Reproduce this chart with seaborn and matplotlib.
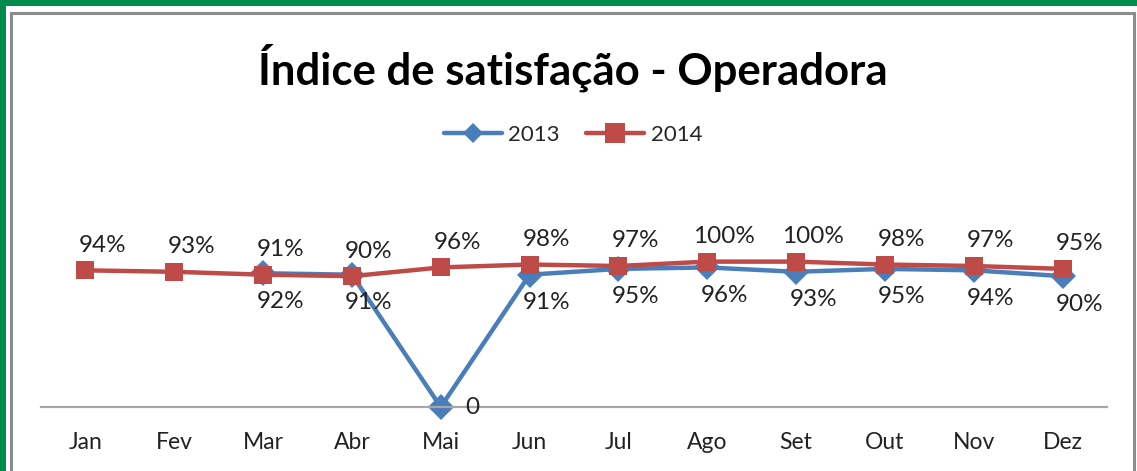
import numpy as np
import pandas as pd
import matplotlib
matplotlib.use("Agg")
import matplotlib.pyplot as plt
from matplotlib.patches import Rectangle
import seaborn as sns

# dados
meses = ["Jan", "Fev", "Mar", "Abr", "Mai", "Jun", "Jul", "Ago", "Set", "Out", "Nov", "Dez"]
v2013 = [None, None, 0.92, 0.91, 0.0, 0.91, 0.95, 0.96, 0.93, 0.95, 0.94, 0.90]
v2014 = [0.94, 0.93, 0.91, 0.90, 0.96, 0.98, 0.97, 1.00, 1.00, 0.98, 0.97, 0.95]
anos = ["2013", "2014"]
cores = {"2013": "#4A7EBB", "2014": "#BE4B48"}
marcadores = {"2013": "D", "2014": "s"}
tam_marcador = {"2013": 10.5, "2014": 14.5}

df = pd.DataFrame({
    "pos": list(range(len(meses))) * 2,
    "ano": ["2013"] * len(meses) + ["2014"] * len(meses),
    "valor": v2013 + v2014,
}).dropna()

sns.set_theme(style="white")
plt.rcParams["font.family"] = ["Lato", "DejaVu Sans"]

W, H = 1137, 471
fig = plt.figure(figsize=(W / 100, H / 100), dpi=100)
fig.patch.set_facecolor("#008A4E")
# fundo branco + moldura cinza
fig.patches.append(Rectangle((6 / W, 0), 1, (H - 6) / H, transform=fig.transFigure,
                             facecolor="white", edgecolor="none", zorder=-2))
fig.patches.append(Rectangle((11 / W, -0.05), (1134 - 11) / W, (H - 13) / H + 0.05,
                             transform=fig.transFigure, facecolor="none",
                             edgecolor="#8C8C8C", linewidth=2.2, zorder=-1))

ax = fig.add_axes([41 / W, (H - 407) / H, (1107 - 41) / W, (407 - 218) / H])
ax.set_facecolor("none")

sns.lineplot(data=df, x="pos", y="valor", hue="ano", style="ano",
             hue_order=anos, style_order=anos, palette=cores,
             markers=marcadores, dashes=False, linewidth=3.2,
             markersize=13, markeredgewidth=0, sort=False, ax=ax)

ax.set_xlim(-0.5, len(meses) - 0.5)
ax.set_ylim(0, 1.3)
ax.set_xticks(range(len(meses)))
ax.set_xticklabels(meses, fontsize=16.5, color="#222222")
ax.set_yticks([])
ax.tick_params(axis="x", length=0, pad=18)
ax.set_xlabel("")
ax.set_ylabel("")
for s in ["top", "right", "left"]:
    ax.spines[s].set_visible(False)
ax.spines["bottom"].set_color("#A6A6A6")
ax.spines["bottom"].set_linewidth(1.6)

handles, labels = ax.get_legend_handles_labels()
ax.get_legend().remove()
for ln in ax.lines + list(handles):
    ln.set_clip_on(False)
    lab = ln.get_label()
    if lab in tam_marcador:
        ln.set_markersize(tam_marcador[lab])

# rótulos de dados
for i, v in enumerate(v2014):
    ax.annotate(f"{v:.0%}", (i, v), xytext=(17, 25), textcoords="offset pixels",
                ha="center", va="center", fontsize=17.5, color="#222222")
for i, v in enumerate(v2013):
    if v is None:
        continue
    if v == 0:
        ax.annotate("0", (i, v), xytext=(24, 0), textcoords="offset pixels",
                    ha="left", va="center", fontsize=17.5, color="#222222")
    else:
        ax.annotate(f"{v:.0%}", (i, v), xytext=(17, -28), textcoords="offset pixels",
                    ha="center", va="center", fontsize=17.5, color="#222222")

fig.legend(handles, labels, loc="center", bbox_to_anchor=(573 / W, 1 - 135 / H),
           ncol=2, frameon=False, fontsize=16, handlelength=2.6,
           columnspacing=1.2, handletextpad=0.3)

fig.text(573 / W, 1 - 68 / H, "Índice de satisfação - Operadora", ha="center",
         va="center", fontsize=31.5, fontweight="bold", color="black")

fig.savefig("out.png", dpi=100)
